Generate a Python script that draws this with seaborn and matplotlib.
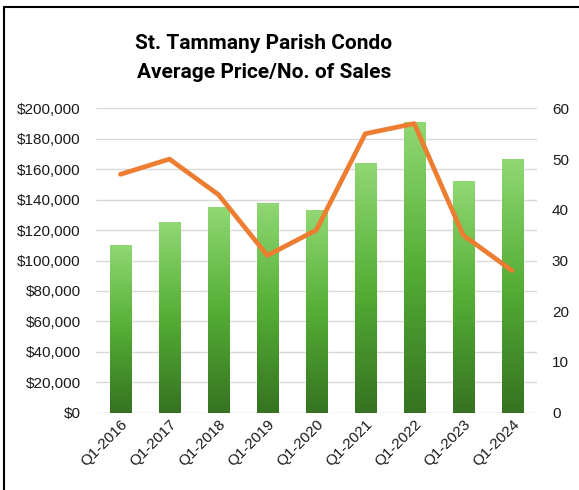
import numpy as np
import pandas as pd
import seaborn as sns
import matplotlib.pyplot as plt
from matplotlib.lines import Line2D
from matplotlib.colors import LinearSegmentedColormap
from matplotlib.ticker import FuncFormatter

# data
quarters = ['Q1-2016', 'Q1-2017', 'Q1-2018', 'Q1-2019', 'Q1-2020',
            'Q1-2021', 'Q1-2022', 'Q1-2023', 'Q1-2024']
avg_price = [110000, 125000, 135000, 138000, 133000, 164000, 191000, 152000, 167000]
num_sales = [47, 50, 43, 31, 36, 55, 57, 35, 28]

df = pd.DataFrame({'quarter': quarters, 'price': avg_price, 'sales': num_sales})

sns.set_style('white')
plt.rcParams['font.family'] = ['Liberation Sans', 'DejaVu Sans']

fig = plt.figure(figsize=(5.79, 4.90), dpi=100)
ax = fig.add_axes([0.1658, 0.1578, 0.761, 0.621])

ax.yaxis.grid(True, color='#d9d9d9', linewidth=1)
ax.set_axisbelow(True)
sns.barplot(data=df, x='quarter', y='price', color='#55ae35', width=0.43, ax=ax, zorder=2)

# vertical gradient fill for every bar (light on top, dark on bottom)
cmap = LinearSegmentedColormap.from_list('grn', ['#357321', '#55ae35', '#90d873'])
grad = np.linspace(0, 1, 256).reshape(-1, 1)
for p in ax.patches:
    x0, y0 = p.get_x(), p.get_y()
    w, h = p.get_width(), p.get_height()
    im = ax.imshow(grad, cmap=cmap, aspect='auto', origin='lower',
                   extent=[x0, x0 + w, y0, y0 + h], zorder=3)
    im.set_clip_path(p)
    p.set_facecolor('none')

ax.set_xlim(-0.5, len(quarters) - 0.5)
ax.set_ylim(0, 200000)
ax.set_yticks(range(0, 200001, 20000))
ax.yaxis.set_major_formatter(FuncFormatter(lambda v, _: f'${v:,.0f}'))
ax.set_xlabel('')
ax.set_ylabel('')
for s in ax.spines.values():
    s.set_visible(False)
ax.tick_params(axis='both', length=0, labelsize=11, colors='#1a1a1a')
ax.tick_params(axis='y', pad=11)
plt.setp(ax.get_xticklabels(), rotation=45, ha='right', rotation_mode='anchor')

ax2 = ax.twinx()
sns.lineplot(data=df, x='quarter', y='sales', color='#ed7d31', linewidth=3.4,
             ax=ax2, sort=False, zorder=5)
ax2.set_ylim(0, 60)
ax2.set_yticks(range(0, 61, 10))
ax2.set_ylabel('')
ax2.set_xlabel('')
for s in ax2.spines.values():
    s.set_visible(False)
ax2.tick_params(axis='y', length=0, labelsize=11, colors='#1a1a1a', pad=11)

title_font = ['Roboto', 'Liberation Sans', 'DejaVu Sans']
fig.text(0.456, 0.912, 'St. Tammany Parish Condo', ha='center', va='center', color='black',
         fontsize=15, fontweight='bold', family=title_font)
fig.text(0.456, 0.853, 'Average Price/No. of Sales', ha='center', va='center', color='black',
         fontsize=15, fontweight='bold', family=title_font)

# chart frame (left and top edges visible)
fig.add_artist(Line2D([4 / 579, 4 / 579], [0, 1 - 7 / 490], transform=fig.transFigure,
                      color='black', linewidth=1.5))
fig.add_artist(Line2D([4 / 579, 1], [1 - 7 / 490, 1 - 7 / 490], transform=fig.transFigure,
                      color='black', linewidth=1.5))

fig.savefig('out.png', dpi=100)
